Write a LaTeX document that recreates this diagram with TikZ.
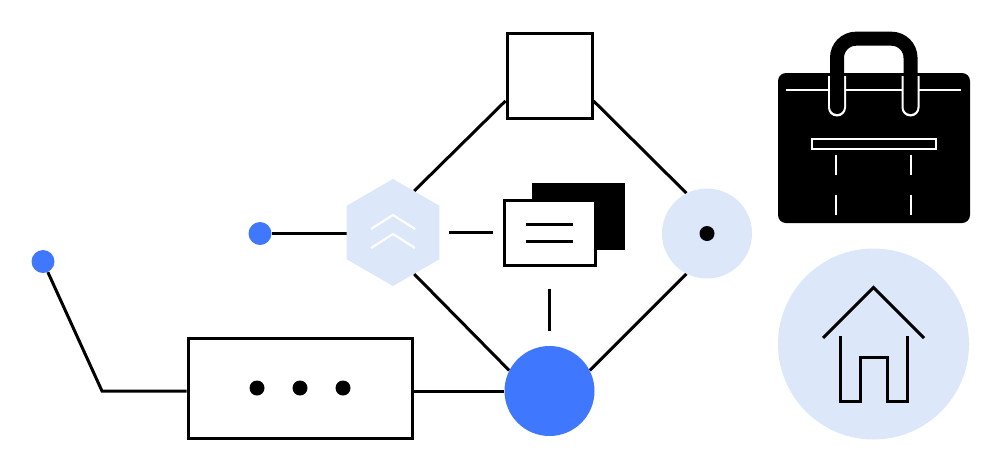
\documentclass[tikz,border=0pt]{standalone}
\usepackage{xcolor}
\usetikzlibrary{positioning,shapes.geometric,backgrounds}
\definecolor{paleblue}{HTML}{DCE7FA}
\definecolor{hubblue}{HTML}{3F78FF}

\begin{document}
\begin{tikzpicture}[
  x=1pt, y=-1pt,
  frame/.style={draw, line width=3pt, fill=white, inner sep=0pt},
  wire/.style={line width=3pt},
  disc/.style={circle, inner sep=0pt, minimum size=#1},
  pin/.style={disc=23pt, fill=hubblue},
  dotmark/.style={disc=15pt, fill=black},
  stroke/.style={white, line width=2.2pt}
]
\useasboundingbox (0,0) rectangle (1000,472);

% network shapes
\node[frame, minimum width=85pt, minimum height=85pt] (top) at (549.5,75.5) {};
\node[regular polygon, regular polygon sides=6, shape border rotate=90, fill=paleblue,
      inner sep=0pt, minimum size=107pt] (hexa) at (393,232.5) {};
\node[disc=90pt, fill=paleblue] (ring) at (707,233.5) {};
\node[dotmark] (ringdot) at (707,233.5) {};
\node[disc=90pt, fill=hubblue] (hub) at (549.5,391) {};
\node[pin] (pinA) at (260,233.5) {};
\node[pin] (pinB) at (43,261.5) {};
\node[frame, minimum width=224pt, minimum height=100pt] (panel) at (300,388) {};
\foreach \x/\n in {257/dotA,300/dotB,343/dotC}
  \node[dotmark] (\n) at (\x,388) {};

% stacked sheets
\node[fill=black, minimum width=93pt, minimum height=67pt, inner sep=0pt] (back) at (578.5,216.5) {};
\node[frame, minimum width=91pt, minimum height=65pt] (sheet) at (549.5,232.5) {};
\draw[wire] (526,224) -- (573,224);
\draw[wire] (526,241.5) -- (573,241.5);

% chevrons
\draw[stroke] (371,229) -- (393,215) -- (415,229);
\draw[stroke] (371,248) -- (393,234) -- (415,248);

% connectors
\coordinate (elbow) at (102,391);
\begin{scope}[on background layer]
\draw[wire] (hexa.63) -- (top.210);
\draw[wire] (top.330) -- (ring.117);
\draw[wire] (hub.27) -- (ring.243);
\draw[wire] (hexa.297) -- (hub.153);
\draw[wire] (pinA) -- (pinA -| hexa);
\draw[wire, shorten <=9pt, shorten >=10pt] (hexa.east) -- (sheet.west);
\draw[wire, shorten <=22pt, shorten >=15pt] (sheet.south) -- (hub.north);
\draw[wire] (pinB) -- (elbow) -- (elbow -| panel.west);
\draw[wire] (hub) -- (hub -| panel.east);
\end{scope}

% bag
\node[fill=black, rounded corners=8pt, minimum width=192pt, minimum height=150pt, inner sep=0pt] (bag) at (874,148) {};
\draw[stroke] (786,90) -- (961,90);
\foreach \x in {837,910.5}
  \fill[white] (\x-9,76) [rounded corners=9pt] -- (\x-9,116.5) -- (\x+9,116.5) [sharp corners] -- (\x+9,76) -- cycle;
\draw[black, line width=14pt, line cap=round, rounded corners=19pt]
  (837,107) -- (837,38.7) -- (910.5,38.7) -- (910.5,107);
\node[draw=white, line width=2pt, fill=black, minimum width=124pt, minimum height=10pt, inner sep=0pt] (slot) at (873.5,143.5) {};
\foreach \x in {836,911} {
  \draw[stroke] (\x,155) -- (\x,175);
  \draw[stroke] (\x,195) -- (\x,215);
}

% house
\node[disc=191pt, fill=paleblue] (home) at (873.5,344) {};
\draw[wire] (823,338) -- (873.5,287.5) -- (924,338);
\draw[wire] (840.5,336) -- (840.5,401) -- (860,401) -- (860,357) -- (887,357) -- (887,401) -- (907,401) -- (907,336);
\end{tikzpicture}
\end{document}
